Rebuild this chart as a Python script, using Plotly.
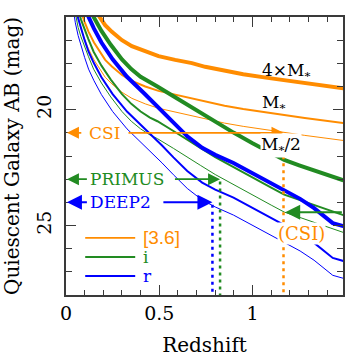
import plotly.graph_objects as go

ORANGE = "#ff8c00"
GREEN = "#228b22"
BLUE = "#0000ff"
AXIS = "#3a3a3a"
SERIF = "DejaVu Serif, Liberation Serif, serif"

# IRAC [3.6] band: redshift and AB mag for 4xM*, M*, M*/2 quiescent galaxies
z_36 = [0.05, 0.06, 0.08, 0.10, 0.12, 0.15, 0.18, 0.21, 0.246, 0.30, 0.353, 0.425,
        0.496, 0.585, 0.675, 0.746, 0.85, 0.95, 1.10, 1.28, 1.487]
m_36_4ms = [13.2, 13.6, 14.24, 14.72, 15.12, 15.6, 16.0, 16.35, 16.64, 17.0, 17.26, 17.5,
            17.69, 17.85, 17.99, 18.15, 18.33, 18.47, 18.65, 18.86, 19.08]
m_36_ms = [14.7, 15.1, 15.74, 16.22, 16.62, 17.1, 17.5, 17.85, 18.14, 18.5, 18.76, 19.0,
           19.19, 19.35, 19.49, 19.65, 19.83, 19.97, 20.15, 20.36, 20.58]
m_36_hms = [15.45, 15.85, 16.49, 16.97, 17.37, 17.85, 18.25, 18.6, 18.89, 19.25, 19.51, 19.75,
            19.94, 20.1, 20.24, 20.4, 20.58, 20.72, 20.9, 21.11, 21.33]

# i band
z_i = [0.04, 0.05, 0.065, 0.08, 0.10, 0.12, 0.148, 0.19, 0.24, 0.30, 0.35, 0.40, 0.45,
       0.49, 0.576, 0.65, 0.72, 0.80, 0.898, 1.0, 1.10, 1.17, 1.25, 1.35, 1.487]
m_i_4ms = [13.16, 13.65, 14.2, 14.6, 15.05, 15.45, 16.0, 16.6, 17.2, 17.83, 18.25, 18.58, 18.84,
           19.0, 19.42, 19.78, 20.15, 20.55, 20.99, 21.45, 21.87, 22.17, 22.4, 22.68, 23.05]
m_i_ms = [14.66, 15.15, 15.7, 16.1, 16.55, 16.95, 17.5, 18.1, 18.7, 19.33, 19.75, 20.08, 20.34,
          20.5, 20.92, 21.28, 21.65, 22.05, 22.49, 22.95, 23.37, 23.67, 23.9, 24.18, 24.55]
m_i_hms = [15.41, 15.9, 16.45, 16.85, 17.3, 17.7, 18.25, 18.85, 19.45, 20.08, 20.5, 20.83, 21.09,
           21.25, 21.67, 22.03, 22.4, 22.8, 23.24, 23.7, 24.12, 24.42, 24.65, 24.93, 25.3]

# r band
z_r = [0.03, 0.04, 0.05, 0.065, 0.08, 0.10, 0.121, 0.15, 0.19, 0.25, 0.327, 0.42, 0.515,
       0.576, 0.65, 0.73, 0.80, 0.898, 1.04, 1.15, 1.255, 1.33, 1.38, 1.43, 1.487]
m_r_4ms = [12.9, 13.5, 14.0, 14.55, 15.0, 15.5, 16.0, 16.5, 17.1, 17.83, 18.58, 19.3, 20.05,
           20.56, 21.15, 21.65, 21.95, 22.3, 22.92, 23.4, 23.85, 24.25, 24.57, 24.9, 25.03]
m_r_ms = [14.4, 15.0, 15.5, 16.05, 16.5, 17.0, 17.5, 18.0, 18.6, 19.33, 20.08, 20.8, 21.55,
          22.06, 22.65, 23.15, 23.45, 23.8, 24.42, 24.9, 25.35, 25.75, 26.07, 26.4, 26.53]
m_r_hms = [15.15, 15.75, 16.25, 16.8, 17.25, 17.75, 18.25, 18.75, 19.35, 20.08, 20.83, 21.55, 22.3,
           22.81, 23.4, 23.9, 24.2, 24.55, 25.17, 25.65, 26.1, 26.5, 26.82, 27.15, 27.28]

# survey limits: magnitude limit and redshift where the M*/2 curve crosses it
csi_mag, csi_z = 21.0, 1.166
primus_mag, primus_z = 23.0, 0.826
deep2_mag, deep2_z = 24.0, 0.785
csi_i_mag, csi_i_z = 24.43, 1.175

fig = go.Figure()

bands = [
    (z_36, [m_36_4ms, m_36_ms, m_36_hms], ORANGE),
    (z_i, [m_i_4ms, m_i_ms, m_i_hms], GREEN),
    (z_r, [m_r_4ms, m_r_ms, m_r_hms], BLUE),
]
for z, mags, col in bands:
    for m, w in zip(mags, [4, 2, 1]):
        fig.add_trace(go.Scatter(x=z, y=m, mode="lines", line=dict(color=col, width=w),
                                 showlegend=False, hoverinfo="skip"))

# dotted redshift limits
for zz, mm, col in [(csi_z, csi_mag, ORANGE), (primus_z, primus_mag, GREEN),
                    (deep2_z, deep2_mag, BLUE)]:
    fig.add_trace(go.Scatter(x=[zz, zz], y=[mm + 0.1, 28], mode="lines",
                             line=dict(color=col, width=2.5, dash="3px,4px"),
                             showlegend=False, hoverinfo="skip"))

ann = []


def arrow(x, y, ax, col, w=1.6):
    ann.append(dict(x=x, y=y, ax=ax, ay=y, xref="x", yref="y", axref="x", ayref="y",
                    text="", showarrow=True, arrowhead=2, arrowsize=1.5, arrowwidth=w,
                    arrowcolor=col))


def label(x, y, txt, col, size=17, anchor="center", bg=None, font=SERIF):
    d = dict(x=x, y=y, xref="x", yref="y", text=txt, showarrow=False, xanchor=anchor,
             font=dict(family=font, size=size, color=col))
    if bg:
        d.update(bgcolor=bg, borderpad=0)
    ann.append(d)


# survey arrows
arrow(0.005, csi_mag, 0.09, ORANGE)
arrow(csi_z, csi_mag, 0.327, ORANGE)
label(0.206, csi_mag, "CSI", ORANGE)
arrow(0.005, primus_mag, 0.12, GREEN)
arrow(primus_z, primus_mag, 0.576, GREEN)
label(0.327, primus_mag, "PRIMUS", GREEN)
arrow(0.005, deep2_mag, 0.12, BLUE, 2)
arrow(deep2_z, deep2_mag, 0.514, BLUE, 2)
label(0.294, deep2_mag, "DEEP2", BLUE)
arrow(csi_i_z, csi_i_mag, 1.487, GREEN, 2)
label(1.264, 25.36, "(CSI)", ORANGE, size=18, bg="white")

# mass labels
label(1.04, 18.36, "4×M<sub>*</sub>", "black", anchor="left")
label(1.04, 19.73, "M<sub>*</sub>", "black", anchor="left")
label(1.04, 21.54, "M<sub>*</sub>/2", "black", anchor="left", bg="white")

# band key
shapes = []
for yy, txt, col, fnt, sz in [(25.53, "[3.6]", ORANGE, "Liberation Sans", 19),
                               (26.36, "i", GREEN, SERIF, 17),
                               (27.18, "r", BLUE, SERIF, 17)]:
    shapes.append(dict(type="line", x0=0.103, x1=0.371, y0=yy, y1=yy, xref="x", yref="y",
                       line=dict(color=col, width=1.8)))
    label(0.40, yy, txt, col, size=sz, anchor="left", font=fnt)

fig.update_layout(
    width=346, height=357,
    margin=dict(l=66, r=3, t=17, b=62),
    paper_bgcolor="white", plot_bgcolor="white",
    font=dict(family=SERIF, size=19, color="black"),
    annotations=ann, shapes=shapes,
)
fig.update_xaxes(
    range=[0, 1.485], showgrid=False, zeroline=False, automargin=False,
    showline=True, linecolor=AXIS, linewidth=2, mirror="allticks",
    ticks="inside", ticklen=10, tickwidth=1.3, tickcolor=AXIS,
    tickvals=[0, 0.5, 1], ticktext=["0", "0.5", "1"], ticklabelstandoff=0,
    tickfont=dict(family=SERIF, size=19, color="black"),
    minor=dict(dtick=0.1, tick0=0, ticks="inside", ticklen=5, tickcolor=AXIS, tickwidth=1.3),
    title=dict(text="Redshift", font=dict(family=SERIF, size=20, color="black"), standoff=18),
)
fig.update_yaxes(
    range=[28, 16], showgrid=False, zeroline=False, automargin=False,
    showline=True, linecolor=AXIS, linewidth=2, mirror="allticks",
    ticks="inside", ticklen=10, tickwidth=1.3, tickcolor=AXIS,
    tickvals=[20, 25], tickangle=-90, ticklabelstandoff=5,
    tickfont=dict(family=SERIF, size=19, color="black"),
    minor=dict(dtick=1, tick0=0, ticks="inside", ticklen=6, tickcolor=AXIS, tickwidth=1.3),
    title=dict(text="Quiescent Galaxy AB (mag)",
               font=dict(family=SERIF, size=20, color="black"), standoff=12),
)

# the page body has a default 8px margin; drop it so the figure sits at the window corner
fig.write_html("out.html", config={"displayModeBar": False},
               post_script="document.body.style.margin='0px';")
